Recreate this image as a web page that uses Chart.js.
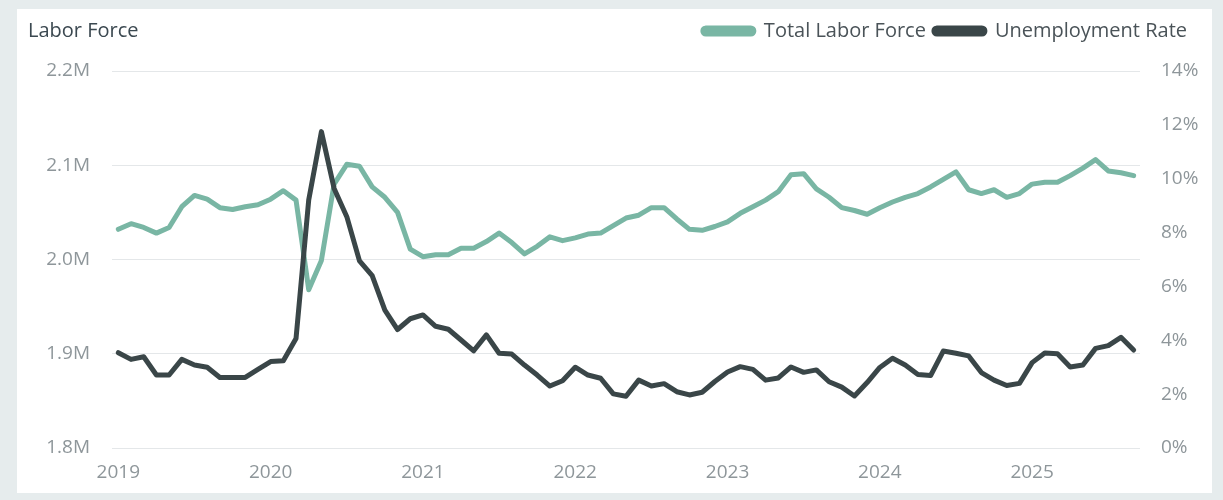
<!DOCTYPE html>
<html>
<head>
<meta charset="utf-8">
<script src="https://cdn.jsdelivr.net/npm/chart.js@4.4.1/dist/chart.umd.min.js"></script>
<style>
    html, body { margin: 0; padding: 0; background: #e6eced; }
    #card { position: absolute; left: 17px; top: 9px; width: 1195px; height: 484px; background: #ffffff; }
    #wrap { position: absolute; left: 0; top: 0; width: 1195px; height: 484px; }
    #title { position: absolute; left: 11px; top: 7px; font: 20px "Open Sans"; color: #3b4850; }
</style>
</head>
<body>
<div id="card">
    <div id="wrap"><canvas id="laborChart"></canvas></div>
    <div id="title">Labor Force</div>
</div>
<script>
// monthly points, Jan 2019 .. Sep 2025
const years = ['2019', '2020', '2021', '2022', '2023', '2024', '2025'];
const monthCodes = ['01', '02', '03', '04', '05', '06', '07', '08', '09', '10', '11', '12'];
const lastMonth = '2025-09';

// total labor force, thousands
const laborForce = [
    2032, 2038, 2034, 2028, 2034, 2056, 2068, 2064, 2055, 2053,
    2056, 2058, 2064, 2073, 2063, 1968, 1999, 2080, 2101, 2099,
    2077, 2066, 2050, 2011, 2003, 2005, 2005, 2012, 2012, 2019,
    2028, 2018, 2006, 2014, 2024, 2020, 2023, 2027, 2028, 2036,
    2044, 2047, 2055, 2055, 2043, 2032, 2031, 2035, 2040, 2049,
    2056, 2063, 2072, 2090, 2091, 2075, 2066, 2055, 2052, 2048,
    2055, 2061, 2066, 2070, 2077, 2085, 2093, 2074, 2070, 2074,
    2066, 2070, 2080, 2082, 2082, 2089, 2097, 2106, 2094, 2092,
    2089
];

// unemployment rate, percent
const unemploymentRate = [
    3.54, 3.29, 3.39, 2.71, 2.71, 3.29, 3.08, 3.00, 2.62, 2.62,
    2.62, 2.92, 3.21, 3.24, 4.07, 9.21, 11.75, 9.64, 8.59, 6.95,
    6.40, 5.12, 4.40, 4.80, 4.94, 4.52, 4.41, 4.01, 3.61, 4.20,
    3.52, 3.49, 3.08, 2.71, 2.30, 2.50, 3.00, 2.71, 2.59, 2.01,
    1.92, 2.52, 2.30, 2.39, 2.09, 1.97, 2.07, 2.47, 2.82, 3.02,
    2.92, 2.52, 2.60, 3.01, 2.81, 2.90, 2.46, 2.26, 1.93, 2.43,
    2.99, 3.33, 3.08, 2.73, 2.69, 3.60, 3.52, 3.42, 2.80, 2.52,
    2.32, 2.40, 3.17, 3.53, 3.50, 3.01, 3.08, 3.70, 3.80, 4.11,
    3.64
];

const labels = [];
for (const y of years) {
    for (const m of monthCodes) {
        const key = y + '-' + m;
        if (key > lastMonth) break;
        labels.push(key);
    }
}

const tealColor = '#79b6a4';
const darkColor = '#3a4648';
const tickColor = '#8e969a';
const gridColor = '#e4e7e9';
const fontFamily = '"Open Sans", sans-serif';

// fixed legend height so the plot starts where the reference does,
// and pull the legend row a bit in from the right edge
const legendSpacer = {
    id: 'legendSpacer',
    beforeInit(chart) {
        const origFit = chart.legend.fit;
        chart.legend.fit = function() {
            origFit.bind(chart.legend)();
            this.height = 58;
            if (this.lineWidths && this.lineWidths.length) this.lineWidths[0] += 17;
        };
    }
};

const ctx = document.getElementById('laborChart').getContext('2d');
new Chart(ctx, {
    type: 'line',
    data: {
        labels: labels,
        datasets: [
            {
                label: 'Total Labor Force',
                data: laborForce.map(v => v * 1000),
                borderColor: tealColor,
                backgroundColor: tealColor,
                borderWidth: 5,
                pointRadius: 0,
                borderJoinStyle: 'round',
                borderCapStyle: 'round',
                yAxisID: 'y',
                order: 2
            },
            {
                label: 'Unemployment Rate',
                data: unemploymentRate,
                borderColor: darkColor,
                backgroundColor: darkColor,
                borderWidth: 5,
                pointRadius: 0,
                borderJoinStyle: 'round',
                borderCapStyle: 'round',
                yAxisID: 'y1',
                order: 1
            }
        ]
    },
    options: {
        responsive: true,
        maintainAspectRatio: false,
        animation: false,
        layout: { padding: { left: 0, right: 0, top: 4, bottom: 0 } },
        plugins: {
            tooltip: { enabled: false },
            legend: {
                position: 'top',
                align: 'end',
                labels: {
                    boxWidth: 51,
                    boxHeight: 6,
                    padding: 8,
                    useBorderRadius: true,
                    borderRadius: 3,
                    color: '#4a5358',
                    font: { family: fontFamily, size: 20 },
                    sort: (a, b) => a.datasetIndex - b.datasetIndex
                }
            }
        },
        scales: {
            x: {
                offset: true,
                grid: { display: false, drawTicks: false },
                border: { display: false },
                afterFit: scale => { scale.height = 45; },
                ticks: {
                    autoSkip: false,
                    maxRotation: 0,
                    padding: 13,
                    color: tickColor,
                    font: { family: fontFamily, size: 19 },
                    callback: function(val) {
                        const lab = this.getLabelForValue(val);
                        return lab.endsWith('-01') ? lab.slice(0, 4) : '';
                    }
                }
            },
            y: {
                position: 'left',
                min: 1800000,
                max: 2200000,
                grid: { color: gridColor, drawTicks: false },
                border: { display: false },
                afterFit: scale => { scale.width = 95; },
                ticks: {
                    stepSize: 100000,
                    padding: 22,
                    color: tickColor,
                    font: { family: fontFamily, size: 19 },
                    callback: v => (v / 1000000).toFixed(1) + 'M'
                }
            },
            y1: {
                position: 'right',
                min: 0,
                max: 14,
                grid: { display: false, drawTicks: false },
                border: { display: false },
                afterFit: scale => { scale.width = 72; },
                ticks: {
                    stepSize: 2,
                    padding: 21,
                    color: tickColor,
                    font: { family: fontFamily, size: 19 },
                    callback: v => v + '%'
                }
            }
        }
    },
    plugins: [legendSpacer]
});
</script>
</body>
</html>
